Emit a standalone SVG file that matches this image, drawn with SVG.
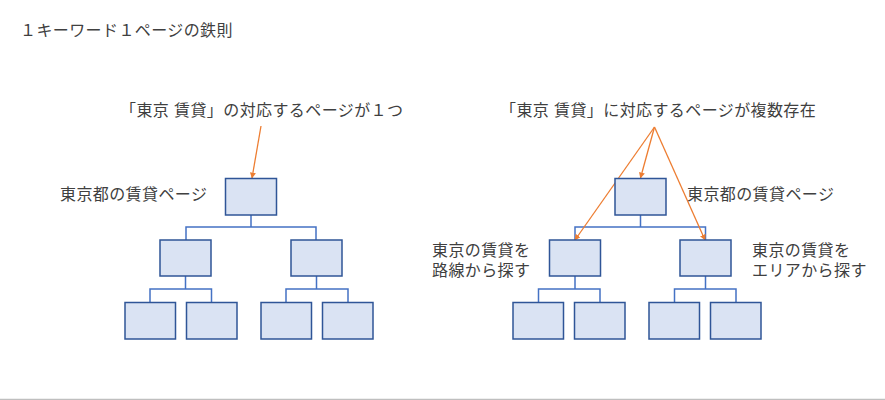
<svg xmlns="http://www.w3.org/2000/svg" width="885" height="400" viewBox="0 0 885 400">
<defs>
<style>
text{font-family:"Liberation Sans","Noto Sans CJK JP",sans-serif;font-size:16px;fill:#404040;letter-spacing:0.4px}
.box{fill:#dae3f3;stroke:#2f5597;stroke-width:1.5}
.con{fill:none;stroke:#4472c4;stroke-width:1.5}
.arr{fill:none;stroke:#ed7d31;stroke-width:1.3}
</style>
<marker id="ah" viewBox="0 0 10 10" refX="9" refY="5" markerWidth="6" markerHeight="6" orient="auto" markerUnits="userSpaceOnUse">
<path d="M0,0 L10,5 L0,10 z" fill="#ed7d31"/>
</marker>
</defs>
<rect width="885" height="400" fill="#fff"/>
<line x1="0" y1="399.5" x2="885" y2="399.5" stroke="#bfbfbf" stroke-width="1.5"/>
<text x="20" y="36">１キーワード１ページの鉄則</text>

<g id="connectors">
<path class="con" d="M251,215 V227 M186,240 V227 H316 V240 M185.5,276 V289 M150,302 V289 H211.5 V302 M316.5,276 V289 M286,302 V289 H348 V302"/>
<path class="con" d="M640.5,215 V227 M575,240 V227 H705.5 V240 M575,276 V289 M538.5,302 V289 H600 V302 M705.5,276 V289 M674.5,302 V289 H736 V302"/>
<line class="arr" x1="261" y1="126" x2="252" y2="178" marker-end="url(#ah)"/>
<line class="arr" x1="654.5" y1="127" x2="640.5" y2="178" marker-end="url(#ah)"/>
<line class="arr" x1="654.5" y1="127" x2="575" y2="240" marker-end="url(#ah)"/>
<line class="arr" x1="654.5" y1="127" x2="705" y2="240" marker-end="url(#ah)"/>
</g>

<g id="left-tree">
<g id="L-top"><rect class="box" x="225.5" y="178.5" width="51" height="36.5"/></g>
<g id="L-mid1"><rect class="box" x="160" y="240" width="51" height="36"/></g>
<g id="L-mid2"><rect class="box" x="291" y="240" width="51" height="36"/></g>
<g id="L-b1"><rect class="box" x="125" y="302.5" width="50.5" height="36.5"/></g>
<g id="L-b2"><rect class="box" x="186.5" y="302.5" width="50.5" height="36.5"/></g>
<g id="L-b3"><rect class="box" x="261" y="302.5" width="50.5" height="36.5"/></g>
<g id="L-b4"><rect class="box" x="322.5" y="302.5" width="50.5" height="36.5"/></g>
</g>

<g id="right-tree">
<g id="R-top"><rect class="box" x="615" y="178.5" width="51" height="36.5"/></g>
<g id="R-mid1"><rect class="box" x="549.5" y="240" width="51" height="36"/></g>
<g id="R-mid2"><rect class="box" x="680" y="240" width="51" height="36"/></g>
<g id="R-b1"><rect class="box" x="513" y="302.5" width="50.5" height="36.5"/></g>
<g id="R-b2"><rect class="box" x="574.5" y="302.5" width="50.5" height="36.5"/></g>
<g id="R-b3"><rect class="box" x="649" y="302.5" width="50.5" height="36.5"/></g>
<g id="R-b4"><rect class="box" x="710.5" y="302.5" width="50.5" height="36.5"/></g>
</g>

<g id="labels">
<text x="120" y="116">「東京 賃貸」の対応するページが１つ</text>
<text x="60" y="200">東京都の賃貸ページ</text>
<text x="500" y="116">「東京 賃貸」に対応するページが複数存在</text>
<text x="687" y="200">東京都の賃貸ページ</text>
<text x="432" y="256"><tspan x="432" y="256">東京の賃貸を</tspan><tspan x="432" y="276">路線から探す</tspan></text>
<text x="752" y="256"><tspan x="752" y="256">東京の賃貸を</tspan><tspan x="752" y="276">エリアから探す</tspan></text>
</g>
</svg>
